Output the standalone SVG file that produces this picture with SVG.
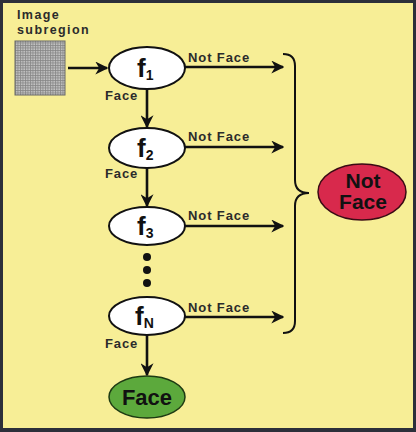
<svg xmlns="http://www.w3.org/2000/svg" width="416" height="432" viewBox="0 0 416 432">
<defs>
<style>
.lbl{font-family:"Liberation Sans",Arial,sans-serif;font-weight:bold;font-size:13px;letter-spacing:0.9px;fill:#2b2b2b}
.nd{fill:#fff;stroke:#111;stroke-width:2}
.fn{font-family:"Liberation Sans",Arial,sans-serif;font-weight:bold;font-size:26px;fill:#111}
.sub{font-size:14px}
.cn{stroke:#111;stroke-width:2.6;fill:none}
.big{font-family:"Liberation Sans",Arial,sans-serif;font-weight:bold;fill:#111;text-anchor:middle}
</style>
<marker id="ah" viewBox="0 0 10 10" refX="9" refY="5" markerWidth="5" markerHeight="5" orient="auto" markerUnits="strokeWidth">
<path d="M0,0 L10,5 L0,10 L3,5 Z" fill="#111"/>
</marker>
<pattern id="grid" width="2.5" height="2.5" patternUnits="userSpaceOnUse">
<rect width="2.5" height="2.5" fill="#c4c4c4"/>
<path d="M0,0.5 H2.5 M0.5,0 V2.5" stroke="#858585" stroke-width="0.8"/>
</pattern>
</defs>
<rect x="0" y="0" width="416" height="432" fill="#2c2f3a"/>
<rect x="3" y="3" width="410" height="425" fill="#f7ee96"/>

<g id="subregion">
<text class="lbl" x="17" y="19" style="font-size:12.5px;letter-spacing:1.4px">Image</text>
<text class="lbl" x="17" y="34" style="font-size:12.5px;letter-spacing:1.4px">subregion</text>
<rect x="15" y="41" width="50" height="54" fill="url(#grid)" stroke="#666" stroke-width="1"/>
</g>

<g id="f1">
<ellipse class="nd" cx="147" cy="68" rx="38" ry="21"/>
<text class="fn" x="137" y="77">f<tspan class="sub" dy="3">1</tspan></text>
</g>
<g id="f2">
<ellipse class="nd" cx="147" cy="148" rx="38" ry="20"/>
<text class="fn" x="137" y="157">f<tspan class="sub" dy="3">2</tspan></text>
</g>
<g id="f3">
<ellipse class="nd" cx="147" cy="226" rx="38" ry="19"/>
<text class="fn" x="137" y="235">f<tspan class="sub" dy="3">3</tspan></text>
</g>
<g id="dots" fill="#111">
<circle cx="147" cy="257" r="4"/>
<circle cx="147" cy="270" r="4"/>
<circle cx="147" cy="283" r="4"/>
</g>
<g id="fN">
<ellipse class="nd" cx="147" cy="316" rx="38" ry="19"/>
<text class="fn" x="135" y="325">f<tspan class="sub" dy="3">N</tspan></text>
</g>
<g id="face">
<ellipse cx="147" cy="397" rx="38" ry="21" fill="#5ca93c" stroke="#1d3a12" stroke-width="1.5"/>
<text class="big" x="147" y="405" font-size="22">Face</text>
</g>
<g id="notface">
<ellipse cx="362" cy="192" rx="44" ry="28" fill="#d8294c" stroke="#3a0a14" stroke-width="1.5"/>
<text class="big" x="363" y="188" font-size="21">Not</text>
<text class="big" x="363" y="209" font-size="21">Face</text>
</g>

<g id="connectors">
<line class="cn" x1="68" y1="68" x2="107" y2="68" marker-end="url(#ah)"/>
<line class="cn" x1="147" y1="89" x2="147" y2="127" marker-end="url(#ah)"/>
<line class="cn" x1="147" y1="168" x2="147" y2="206" marker-end="url(#ah)"/>
<line class="cn" x1="147" y1="335" x2="147" y2="375" marker-end="url(#ah)"/>
<line class="cn" x1="185" y1="67" x2="283" y2="67" marker-end="url(#ah)"/>
<line class="cn" x1="185" y1="147" x2="283" y2="147" marker-end="url(#ah)"/>
<line class="cn" x1="185" y1="226" x2="283" y2="226" marker-end="url(#ah)"/>
<line class="cn" x1="185" y1="317" x2="283" y2="317" marker-end="url(#ah)"/>
<path d="M283,54 Q295,54 295,66 V180 Q295,193 309,193 Q295,193 295,206 V321 Q295,333 283,333" fill="none" stroke="#111" stroke-width="2"/>
<text class="lbl" x="105" y="100">Face</text>
<text class="lbl" x="105" y="178">Face</text>
<text class="lbl" x="105" y="348">Face</text>
<text class="lbl" x="188" y="62">Not Face</text>
<text class="lbl" x="188" y="141">Not Face</text>
<text class="lbl" x="188" y="220">Not Face</text>
<text class="lbl" x="188" y="312">Not Face</text>
</g>
</svg>
